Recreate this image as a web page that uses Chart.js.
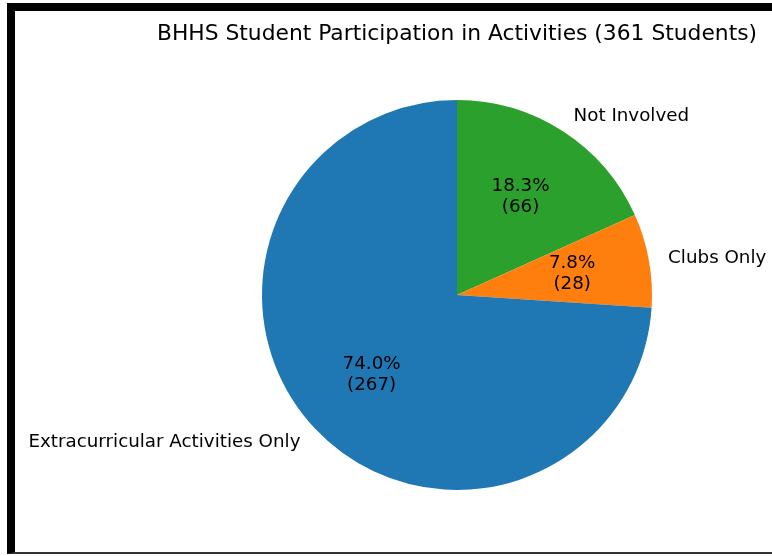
<!DOCTYPE html>
<html>
<head>
<meta charset="utf-8">
<script src="https://cdn.jsdelivr.net/npm/chart.js@4.4.1/dist/chart.umd.min.js"></script>
<style>
    html, body { margin: 0; padding: 0; background: #fff; overflow: hidden; }
    #wrap { position: relative; width: 772px; height: 556px; }
    #pieChart { position: absolute; left: 0; top: 0; }
    #frame {
        position: absolute; left: 7px; top: 3px; width: 800px; height: 541px;
        border-top: 8px solid #000; border-left: 8px solid #000; border-bottom: 2px solid #333;
        pointer-events: none;
    }
    #title {
        position: absolute; left: 457px; top: 20px; transform: translateX(-50%);
        white-space: nowrap; font-family: 'DejaVu Sans'; font-size: 21.8px; color: #000;
    }
</style>
</head>
<body>
<div id="wrap">
    <canvas id="pieChart" width="772" height="556"></canvas>
    <div id="frame"></div>
    <div id="title">BHHS Student Participation in Activities (361 Students)</div>
</div>
<script>
const categories = ['Extracurricular Activities Only', 'Clubs Only', 'Not Involved'];
const counts = [267, 28, 66];
const sliceColors = ['#1f77b4', '#ff7f0e', '#2ca02c'];

// matplotlib draws counter-clockwise from the top, Chart.js clockwise -> reverse
const labels = categories.slice().reverse();
const values = counts.slice().reverse();
const colors = sliceColors.slice().reverse();
const total = counts.reduce((a, b) => a + b, 0);

const pieLabels = {
    id: 'pieLabels',
    afterDatasetsDraw(chart) {
        const ctx = chart.ctx;
        const arcs = chart.getDatasetMeta(0).data;
        ctx.save();
        ctx.fillStyle = '#000';
        ctx.font = '18.3px "DejaVu Sans"';
        ctx.textBaseline = 'middle';
        arcs.forEach((arc, i) => {
            const mid = (arc.startAngle + arc.endAngle) / 2;
            const r = arc.outerRadius;
            const cos = Math.cos(mid), sin = Math.sin(mid);

            // category label outside
            ctx.textAlign = cos > 0 ? 'left' : 'right';
            ctx.fillText(labels[i], arc.x + r * 1.1 * cos, arc.y + r * 1.1 * sin + 1);

            // percentage + count inside
            const px = arc.x + r * 0.6 * cos;
            const py = arc.y + r * 0.6 * sin;
            const pct = (values[i] / total * 100).toFixed(1) + '%';
            ctx.textAlign = 'center';
            ctx.fillText(pct, px, py - 10.5);
            ctx.fillText('(' + values[i] + ')', px, py + 10.5);
        });
        ctx.restore();
    }
};

new Chart(document.getElementById('pieChart').getContext('2d'), {
    type: 'pie',
    data: {
        labels: labels,
        datasets: [{
            data: values,
            backgroundColor: colors,
            borderWidth: 0,
            hoverOffset: 0,
            offset: 0
        }]
    },
    options: {
        responsive: false,
        animation: false,
        layout: { padding: { left: 262, right: 120, top: 100, bottom: 66 } },
        plugins: {
            legend: { display: false },
            tooltip: { enabled: false },
            title: { display: false }
        }
    },
    plugins: [pieLabels]
});
</script>
</body>
</html>
